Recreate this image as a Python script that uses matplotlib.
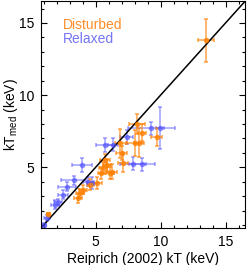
import matplotlib
matplotlib.use("Agg")
import matplotlib.pyplot as plt
from matplotlib.ticker import MultipleLocator

plt.rcParams['font.family'] = ['Liberation Sans', 'DejaVu Sans']

# disturbed clusters (orange)
dist_x = [13.5, 8.2, 8.55, 9.7, 8.35, 6.9, 8.0, 7.0, 7.1, 5.7, 5.55, 6.25, 5.85,
          6.1, 5.45, 5.1, 4.05, 3.8, 3.65, 1.35, 4.6]
dist_y = [13.8, 8.0, 7.4, 7.1, 6.7, 6.65, 6.65, 6.0, 5.3, 5.5, 4.95, 4.7, 5.15,
          4.6, 4.6, 3.9, 3.45, 3.2, 2.85, 1.75, 3.8]
dist_xerr = [0.65, 0.6, 0.3, 0.4, 0.4, 0.4, 0.6, 0.4, 0.4, 0.4, 0.3, 0.4, 0.3,
             0.3, 0.3, 0.4, 0.3, 0.3, 0.3, 0.1, 0.3]
dist_yerr = [1.5, 0.7, 0.6, 0.6, 1.0, 1.0, 0.9, 0.5, 0.6, 0.4, 0.4, 0.5, 0.4,
             0.4, 0.4, 0.4, 0.3, 0.3, 0.3, 0.1, 0.4]

# relaxed clusters (blue)
rel_x = [9.3, 9.95, 5.75, 6.35, 7.9, 8.55, 7.4, 3.95, 3.3, 4.45, 2.8, 4.7,
         2.5, 1.9, 1.25, 1.0, 2.1]
rel_y = [7.7, 7.7, 6.55, 6.55, 5.25, 5.2, 7.1, 5.15, 4.1, 4.0, 3.65, 3.9,
         3.1, 2.4, 1.5, 1.0, 2.6]
rel_xerr = [1.8, 0.3, 0.7, 0.4, 1.0, 1.0, 0.5, 0.75, 0.95, 0.4, 0.7, 0.4,
            0.4, 0.3, 0.2, 0.15, 0.3]
rel_yerr = [0.45, 1.45, 0.5, 0.45, 0.45, 0.45, 0.5, 0.5, 0.3, 0.3, 0.3, 0.4,
            0.3, 0.3, 0.2, 0.15, 0.2]

lim = [0.8, 16.5]
orange = '#FF7F00'
blue = '#5050FF'

fig = plt.figure(figsize=(2.49, 2.65), dpi=100)
ax = fig.add_axes([0.165, 0.14, 0.819, 0.855])

ax.errorbar(rel_x, rel_y, xerr=rel_xerr, yerr=rel_yerr, fmt='o', color=blue,
            ms=3, elinewidth=1.1, capsize=1.5, capthick=1.1, alpha=0.55)
ax.errorbar(dist_x, dist_y, xerr=dist_xerr, yerr=dist_yerr, fmt='o', color=orange,
            ms=3, elinewidth=1.1, capsize=1.5, capthick=1.1, alpha=0.7)
ax.plot(lim, lim, color='black', lw=1.1)

ax.set_xlim(lim)
ax.set_ylim(lim)
ax.xaxis.set_major_locator(MultipleLocator(5))
ax.yaxis.set_major_locator(MultipleLocator(5))
ax.xaxis.set_minor_locator(MultipleLocator(1))
ax.yaxis.set_minor_locator(MultipleLocator(1))
ax.tick_params(which='both', direction='in', top=True, right=True, labelsize=10, width=0.8)
ax.tick_params(which='major', length=4.5, pad=5)
ax.tick_params(which='minor', length=2.2)
for s in ax.spines.values():
    s.set_linewidth(0.8)

ax.set_xlabel('Reiprich (2002) kT (keV)', fontsize=10, labelpad=2)
ax.set_ylabel('kT$_{\\mathregular{med}}$ (keV)', fontsize=10)
ax.yaxis.set_label_coords(-0.105, 0.5)

ax.text(0.108, 0.894, 'Disturbed', color='#FF8C28', fontsize=10,
        transform=ax.transAxes, va='center')
ax.text(0.108, 0.833, 'Relaxed', color='#7474F4', fontsize=10,
        transform=ax.transAxes, va='center')

fig.savefig('out.png', dpi=100)
